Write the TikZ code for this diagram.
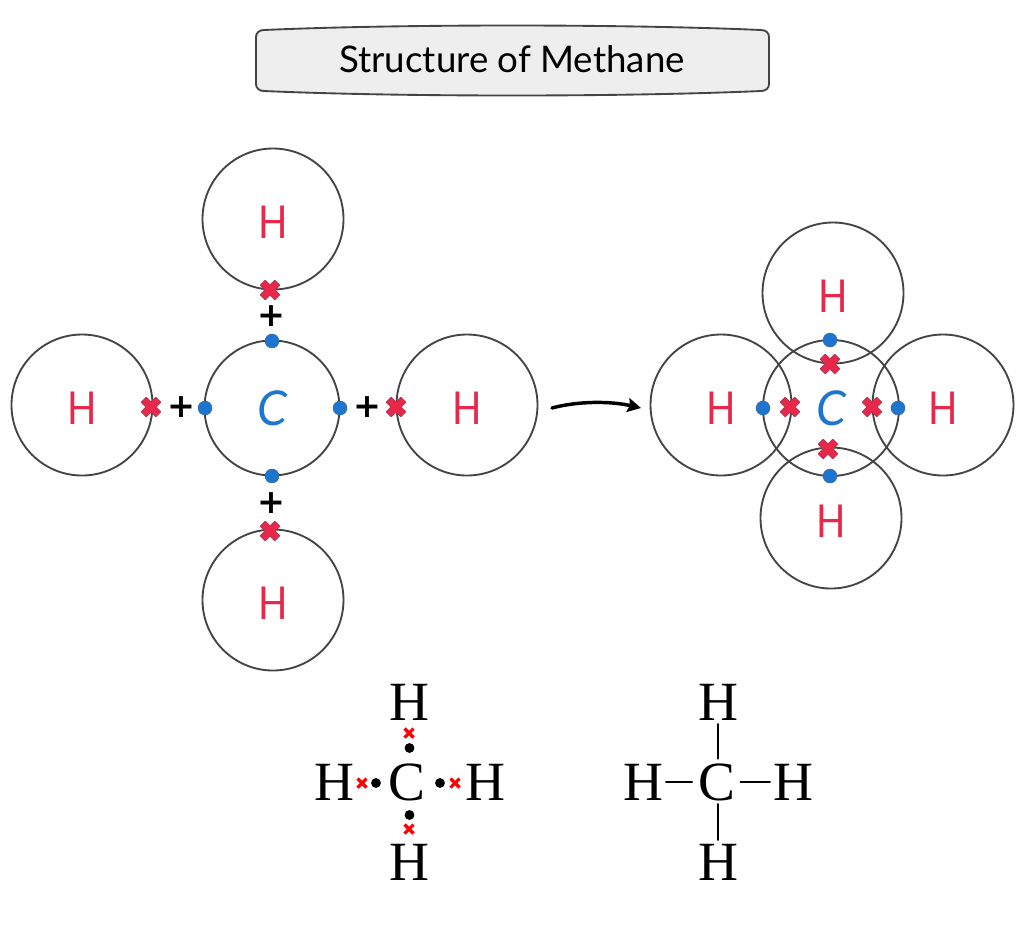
\documentclass[tikz,border=0pt]{standalone}
\usepackage{fontspec}
\usetikzlibrary{arrows.meta}
\setmainfont{Liberation Serif}
\newfontfamily\handfont{Lato}
\newfontfamily\narrowhand[FakeStretch=0.85]{Lato}
\newfontfamily\plusfont{DejaVu Sans Bold}
\definecolor{ink}{HTML}{444444}
\definecolor{hred}{HTML}{E8274B}
\definecolor{cblue}{HTML}{1C75CF}
\definecolor{xedge}{HTML}{A8384E}
\definecolor{dotedge}{HTML}{3A6496}
\tikzset{
  x=0.75pt,y=-0.75pt,
  orbit/.style={circle,draw=ink,line width=1.4pt,inner sep=0pt,outer sep=0pt,minimum size=#1*0.75pt},
  hydro/.style={orbit=#1,text=hred,font=\narrowhand\fontsize{34}{34}\selectfont,text height=29pt,text depth=0pt},
  carbon/.style={orbit=#1,text=cblue,font=\handfont\itshape\fontsize{36}{36}\selectfont},
  bluedot/.style={circle,fill=cblue,draw=dotedge,line width=0.4pt,inner sep=0pt,minimum size=10.4pt},
  plussign/.style={font=\plusfont\fontsize{25}{25}\selectfont,text=black,inner sep=0pt},
  formula/.style={font=\fontsize{41.5}{41.5}\selectfont,inner sep=0pt,outer sep=1.5pt,text height=27.5pt,text depth=0pt},
  blackdot/.style={circle,fill=black,inner sep=0pt,minimum size=7.4pt},
  bond/.style={line width=2.2pt,black,line cap=round},
  xmark/.pic={
    \path[fill=hred,draw=xedge,line width=0.5pt,rounded corners=0.4pt,rotate=45]
      (-3.6,-3.6)--(-3.6,-10.4)--(3.6,-10.4)--(3.6,-3.6)--(10.4,-3.6)--(10.4,3.6)--(3.6,3.6)--(3.6,10.4)--(-3.6,10.4)--(-3.6,3.6)--(-10.4,3.6)--(-10.4,-3.6)--cycle;
  },
  smallx/.pic={
    \draw[red,line width=2.4pt] (-4.5,-4.5)--(4.5,4.5) (-4.5,4.5)--(4.5,-4.5);
  }
}
\begin{document}
\begin{tikzpicture}
\useasboundingbox[fill=white] (0,0) rectangle (1024,929);
% title
\path[fill=black!6.5,draw=ink,line width=1.4pt]
  (264,30) .. controls (400,24) and (624,24) .. (761,30)
  .. controls (766,30) and (769,33) .. (769,37)
  -- (769,84) .. controls (769,88) and (766,91) .. (761,91)
  .. controls (624,97) and (400,97) .. (264,91)
  .. controls (259,91) and (256,88) .. (256,84)
  -- (256,37) .. controls (256,33) and (259,30) .. (264,30) -- cycle;
\node[font=\handfont\fontsize{27.5}{27.5}\selectfont,text=black,inner sep=0pt] (title) at (512,59) {Structure of Methane};
% separate atoms
\node[hydro=141] (ha) at (273,219) {H};
\node[hydro=141] (hb) at (82,405) {H};
\node[carbon=135] (ca) at (272,408) {C};
\node[hydro=141] (hc) at (467,405) {H};
\node[hydro=141] (hd) at (273,600) {H};
\foreach \x/\y in {270/290,151/407,396/407,270/531} \pic at (\x,\y) {xmark};
\node[bluedot] (da) at (272,341) {};
\node[bluedot] (db) at (205,408) {};
\node[bluedot] (dc) at (340,408) {};
\node[bluedot] (dd) at (272,476) {};
\node[plussign] (pa) at (271,316) {+};
\node[plussign] (pb) at (181,407) {+};
\node[plussign] (pc) at (367,407) {+};
\node[plussign] (pd) at (271,503) {+};
% reaction arrow
\coordinate (as) at (552,408);
\coordinate (ae) at (641,408);
\draw[line width=2.6pt,black,line cap=round,-{Stealth[length=10pt,width=10.5pt,inset=1.5pt]}] (as) .. controls (578,401) and (610,401) .. (ae);
% bonded molecule
\node[hydro=141] (hp) at (833,293) {H};
\node[hydro=141] (hq) at (721,405) {H};
\node[hydro=141] (hr) at (943,405) {H};
\node[hydro=141] (hs) at (831,518) {H};
\node[carbon=136,fill=none] (cb) at (831,408) {C};
\node[bluedot] (ea) at (830,340) {};
\node[bluedot] (eb) at (763,408) {};
\node[bluedot] (ec) at (898,408) {};
\node[bluedot] (ed) at (830,476) {};
\foreach \x/\y in {830/364,790/407,872/407,828/449} \pic at (\x,\y) {xmark};
% Lewis structure
\node[formula] (la) at (409,702) {H};
\node[formula] (lb) at (334,782) {H};
\node[formula] (lc) at (407,782) {C};
\node[formula] (ld) at (485,782) {H};
\node[formula] (le) at (409,862) {H};
\foreach \x/\y in {409/733,362/783,455/783,409/829} \pic at (\x,\y) {smallx};
\node[blackdot] (ka) at (409.5,748) {};
\node[blackdot] (kb) at (376,783) {};
\node[blackdot] (kc) at (440,783) {};
\node[blackdot] (kd) at (409.5,815) {};
% structural formula
\node[formula] (sa) at (718,702) {H};
\node[formula] (sb) at (643,782) {H};
\node[formula] (sc) at (717,782) {C};
\node[formula] (sd) at (793,782) {H};
\node[formula] (se) at (718,862) {H};
\draw[bond,shorten >=3.5pt,shorten <=1pt] (sb.east) -- (sc.west);
\draw[bond,shorten >=2.5pt,shorten <=1pt] (sd.west) -- (sc.east);
\draw[bond,shorten <=1.5pt,shorten >=2.5pt] (sa.south) -- (sa.south |- sc.north);
\draw[bond,shorten <=1.5pt,shorten >=1.5pt] (se.north) -- (se.north |- sc.south);
\end{tikzpicture}
\end{document}
